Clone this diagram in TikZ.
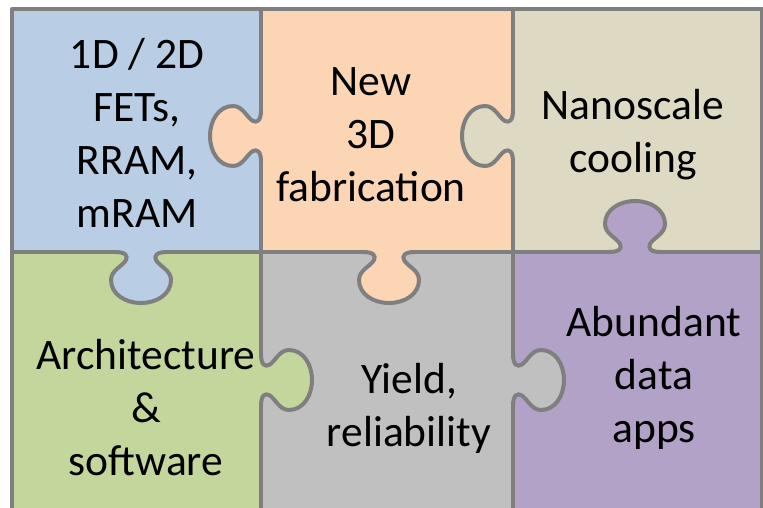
\documentclass[tikz,border=0pt]{standalone}
\usepackage{fontspec}
\setmainfont{Carlito}
\definecolor{cblue}{HTML}{B9CDE5}
\definecolor{cpeach}{HTML}{FCD5B5}
\definecolor{cbeige}{HTML}{DDD9C3}
\definecolor{cgreen}{HTML}{C3D69B}
\definecolor{cgrey}{HTML}{C0C0C0}
\definecolor{cpurple}{HTML}{B3A2C7}
\definecolor{cline}{HTML}{7F7F7F}
\tikzset{
  edgeline/.style={draw=cline, line width=4pt, line join=round},
  lbl/.style={font=\fontsize{43.5}{53}\selectfont, align=center, inner sep=0pt},
  pics/knob/.style={code={
    \fill[#1] (-26,0) .. controls (-15,0) and (-13,4) .. (-15,8)
      .. controls (-18,14) and (-30,18) .. (-30,28)
      .. controls (-30,42) and (-16,51) .. (0,51)
      .. controls (16,51) and (30,42) .. (30,28)
      .. controls (30,18) and (18,14) .. (15,8)
      .. controls (13,4) and (15,0) .. (26,0) -- cycle;
    \draw[edgeline] (-26,0) .. controls (-15,0) and (-13,4) .. (-15,8)
      .. controls (-18,14) and (-30,18) .. (-30,28)
      .. controls (-30,42) and (-16,51) .. (0,51)
      .. controls (16,51) and (30,42) .. (30,28)
      .. controls (30,18) and (18,14) .. (15,8)
      .. controls (13,4) and (15,0) .. (26,0);
  }}
}
\begin{document}
\begin{tikzpicture}[x=1pt,y=-1pt]
\useasboundingbox[fill=white] (0,0) rectangle (763,508);
\begin{scope}
\clip (0,0) rectangle (763,508);
% piece fills
\fill[cblue]   (12,9)   rectangle (261,252);
\fill[cpeach]  (261,9)  rectangle (513,252);
\fill[cbeige]  (513,9)  rectangle (762,252);
\fill[cgreen]  (12,252) rectangle (261,520);
\fill[cgrey]   (261,252) rectangle (513,520);
\fill[cpurple] (513,252) rectangle (762,520);
% dividers with gaps for the knobs
\draw[edgeline] (261,9) -- (261,110) (261,162) -- (261,252);
\draw[edgeline] (513,9) -- (513,110) (513,162) -- (513,252);
\draw[edgeline] (12,252) -- (115,252) (167,252) -- (363,252)
                (415,252) -- (609,252) (661,252) -- (762,252);
\draw[edgeline] (261,252) -- (261,354) (261,406) -- (261,520);
\draw[edgeline] (513,252) -- (513,354) (513,406) -- (513,520);
% outer border
\draw[edgeline] (12,520) -- (12,9) -- (762,9) -- (762,520);
% knobs
\pic[rotate=-90] at (261,136) {knob=cpeach};
\pic[rotate=-90] at (513,136) {knob=cbeige};
\pic at (141,252) {knob=cblue};
\pic at (389,252) {knob=cpeach};
\pic[rotate=180] at (635,252) {knob=cpurple};
\pic[rotate=90] at (261,380) {knob=cgreen};
\pic[rotate=90] at (513,380) {knob=cgrey};
\end{scope}
% labels
\node[lbl] (t1) at (137,137) {\strut 1D / 2D\\\strut FETs,\\\strut RRAM,\\\strut mRAM};
\node[lbl] (t2) at (371,138) {\strut New\\\strut 3D\\\strut fabrication};
\node[lbl] (t3) at (633,135) {\strut Nanoscale\\\strut cooling};
\node[lbl] (t4) at (146,412) {\strut Architecture\\\strut \&\\\strut software};
\node[lbl] (t5) at (409,409) {\strut Yield,\\\strut reliability};
\node[lbl] (t6) at (654,379) {\strut Abundant\\\strut data\\\strut apps};
\end{tikzpicture}
\end{document}
